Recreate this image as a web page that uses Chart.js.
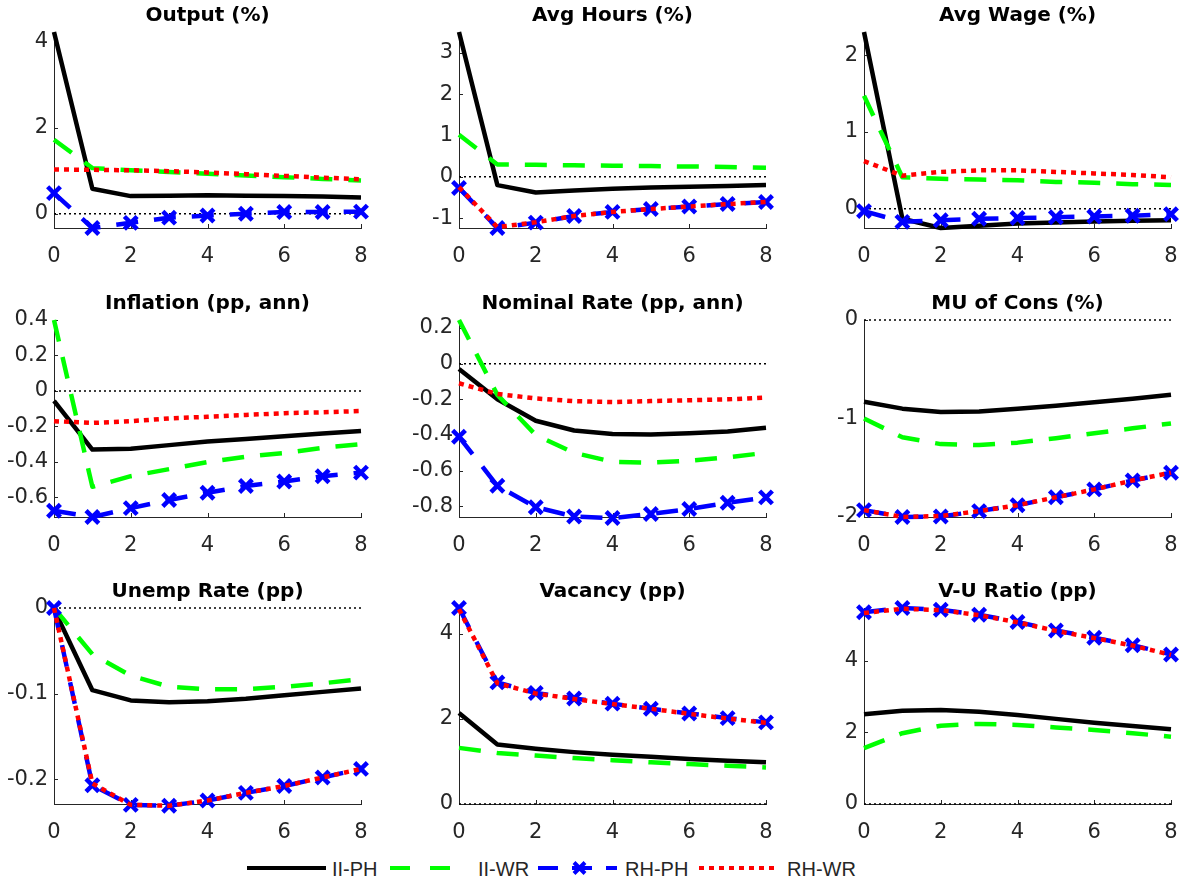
<!DOCTYPE html>
<html>
<head>
<meta charset="utf-8">
<script src="https://cdn.jsdelivr.net/npm/chart.js@4.4.1/dist/chart.umd.min.js"></script>
<style>
  html, body { margin: 0; padding: 0; background: #fff; }
  body { width: 1184px; height: 886px; position: relative; overflow: hidden; }
  canvas.panel { position: absolute; }
  #legendMarks { position: absolute; left: 0; top: 0; }
  .lg-text { position: absolute; top: 857px; font-size: 20px; line-height: 24px; color: #262626;
    font-family: "Liberation Sans", Arial, sans-serif; white-space: nowrap; }
</style>
</head>
<body>
<svg id="legendMarks" width="1184" height="886"></svg>
<script>
// horizons and labels
const periods = [0, 1, 2, 3, 4, 5, 6, 7, 8];
const xTicks = [0, 2, 4, 6, 8];
const seriesNames = ["II-PH", "II-WR", "RH-PH", "RH-WR"];
const panelTitles = ["Output (%)", "Avg Hours (%)", "Avg Wage (%)",
  "Inflation (pp, ann)", "Nominal Rate (pp, ann)", "MU of Cons (%)",
  "Unemp Rate (pp)", "Vacancy (pp)", "V-U Ratio (pp)"];
const zeroLine = [0, 0, 0, 0, 0, 0, 0, 0, 0];

// Output
const outputIIPH = [4.22, 0.58, 0.41, 0.42, 0.43, 0.42, 0.41, 0.40, 0.38];
const outputIIWR = [1.72, 1.06, 1.01, 0.97, 0.93, 0.89, 0.85, 0.81, 0.77];
const outputRHPH = [0.48, -0.33, -0.21, -0.09, -0.04, 0.00, 0.04, 0.04, 0.05];
const outputRHWR = [1.03, 1.02, 1.01, 0.99, 0.96, 0.92, 0.88, 0.84, 0.80];
const outputRange = [-0.33, 4.22];
const outputTicks = [0, 2, 4];

// Avg Hours
const hoursIIPH = [3.51, -0.20, -0.38, -0.33, -0.29, -0.26, -0.24, -0.22, -0.20];
const hoursIIWR = [1.02, 0.30, 0.29, 0.28, 0.27, 0.26, 0.25, 0.24, 0.22];
const hoursRHPH = [-0.27, -1.24, -1.11, -0.95, -0.85, -0.78, -0.72, -0.66, -0.61];
const hoursRHWR = [-0.25, -1.22, -1.10, -0.95, -0.85, -0.78, -0.72, -0.66, -0.61];
const hoursRange = [-1.24, 3.51];
const hoursTicks = [-1, 0, 1, 2, 3];

// Avg Wage
const wageIIPH = [2.30, -0.13, -0.25, -0.22, -0.19, -0.18, -0.165, -0.155, -0.15];
const wageIIWR = [1.47, 0.41, 0.39, 0.38, 0.37, 0.35, 0.34, 0.32, 0.31];
const wageRHPH = [-0.03, -0.17, -0.15, -0.13, -0.12, -0.11, -0.10, -0.09, -0.07];
const wageRHWR = [0.62, 0.43, 0.48, 0.50, 0.50, 0.48, 0.46, 0.44, 0.41];
const wageRange = [-0.25, 2.30];
const wageTicks = [0, 1, 2];

// Inflation
const inflIIPH = [-0.056, -0.33, -0.325, -0.305, -0.285, -0.27, -0.255, -0.24, -0.225];
const inflIIWR = [0.40, -0.54, -0.48, -0.44, -0.40, -0.37, -0.35, -0.32, -0.30];
const inflRHPH = [-0.675, -0.71, -0.66, -0.614, -0.573, -0.535, -0.51, -0.48, -0.46];
const inflRHWR = [-0.17, -0.18, -0.17, -0.155, -0.145, -0.135, -0.125, -0.12, -0.113];
const inflRange = [-0.71, 0.40];
const inflTicks = [-0.6, -0.4, -0.2, 0, 0.2, 0.4];

// Nominal Rate
const rateIIPH = [-0.03, -0.20, -0.32, -0.375, -0.395, -0.397, -0.39, -0.38, -0.36];
const rateIIWR = [0.245, -0.175, -0.40, -0.50, -0.55, -0.555, -0.545, -0.525, -0.50];
const rateRHPH = [-0.41, -0.685, -0.805, -0.857, -0.866, -0.843, -0.815, -0.78, -0.75];
const rateRHWR = [-0.11, -0.17, -0.195, -0.21, -0.215, -0.21, -0.205, -0.20, -0.19];
const rateRange = [-0.86, 0.245];
const rateTicks = [-0.8, -0.6, -0.4, -0.2, 0, 0.2];

// MU of Cons
const muIIPH = [-0.83, -0.90, -0.935, -0.93, -0.90, -0.87, -0.835, -0.80, -0.76];
const muIIWR = [-1.0, -1.19, -1.26, -1.27, -1.245, -1.20, -1.15, -1.10, -1.05];
const muRHPH = [-1.93, -2.0, -1.995, -1.94, -1.88, -1.80, -1.72, -1.63, -1.55];
const muRHWR = [-1.93, -2.0, -1.99, -1.94, -1.88, -1.80, -1.72, -1.63, -1.55];
const muRange = [-2.0, 0];
const muTicks = [-2, -1, 0];

// Unemp Rate
const unempIIPH = [-0.0015, -0.096, -0.108, -0.110, -0.109, -0.106, -0.102, -0.098, -0.094];
const unempIIWR = [0, -0.054, -0.079, -0.092, -0.095, -0.095, -0.092, -0.088, -0.083];
const unempRHPH = [0, -0.207, -0.230, -0.231, -0.225, -0.216, -0.208, -0.198, -0.188];
const unempRHWR = [0, -0.205, -0.230, -0.231, -0.225, -0.216, -0.208, -0.198, -0.188];
const unempRange = [-0.229, 0];
const unempTicks = [-0.2, -0.1, 0];

// Vacancy
const vacIIPH = [2.14, 1.40, 1.30, 1.22, 1.16, 1.11, 1.06, 1.02, 0.98];
const vacIIWR = [1.32, 1.20, 1.14, 1.08, 1.03, 0.98, 0.94, 0.90, 0.86];
const vacRHPH = [4.61, 2.86, 2.61, 2.48, 2.36, 2.24, 2.13, 2.02, 1.92];
const vacRHWR = [4.58, 2.84, 2.60, 2.47, 2.35, 2.24, 2.12, 2.01, 1.91];
const vacRange = [0, 4.61];
const vacTicks = [0, 2, 4];

// V-U Ratio
const vuIIPH = [2.51, 2.61, 2.63, 2.58, 2.49, 2.38, 2.27, 2.18, 2.09];
const vuIIWR = [1.56, 1.98, 2.19, 2.24, 2.21, 2.14, 2.07, 1.98, 1.88];
const vuRHPH = [5.36, 5.48, 5.43, 5.29, 5.09, 4.85, 4.65, 4.44, 4.18];
const vuRHWR = [5.34, 5.46, 5.42, 5.28, 5.08, 4.84, 4.64, 4.43, 4.17];
const vuRange = [0, 5.48];
const vuTicks = [0, 2, 4];

const panels = [
  { series: [outputIIPH, outputIIWR, outputRHPH, outputRHWR], range: outputRange, ticks: outputTicks },
  { series: [hoursIIPH, hoursIIWR, hoursRHPH, hoursRHWR], range: hoursRange, ticks: hoursTicks },
  { series: [wageIIPH, wageIIWR, wageRHPH, wageRHWR], range: wageRange, ticks: wageTicks },
  { series: [inflIIPH, inflIIWR, inflRHPH, inflRHWR], range: inflRange, ticks: inflTicks },
  { series: [rateIIPH, rateIIWR, rateRHPH, rateRHWR], range: rateRange, ticks: rateTicks },
  { series: [muIIPH, muIIWR, muRHPH, muRHWR], range: muRange, ticks: muTicks },
  { series: [unempIIPH, unempIIWR, unempRHPH, unempRHWR], range: unempRange, ticks: unempTicks },
  { series: [vacIIPH, vacIIWR, vacRHPH, vacRHWR], range: vacRange, ticks: vacTicks },
  { series: [vuIIPH, vuIIWR, vuRHPH, vuRHWR], range: vuRange, ticks: vuTicks }
];

// line looks, same order as seriesNames
const seriesStyles = [
  { color: "#000000", dash: [], legendDash: "", marker: false, order: 4 },
  { color: "#00ff00", dash: [22, 16], legendDash: "20 20", marker: false, order: 3 },
  { color: "#0000ff", dash: [22, 16], legendDash: "20 14", marker: true, order: 2 },
  { color: "#ff0000", dash: [5, 5], legendDash: "5 5", marker: false, order: 1 }
];

const colLefts = [54, 459, 864];
const rowTops = [32, 320, 608];
const rowHeights = [196, 197, 196];
const plotWidth = 307;
const PAD_LEFT = 64, PAD_RIGHT = 64, PAD_TOP = 26, PAD_BOTTOM = 45;
const AXIS_COLOR = "#262626";
const TICK_FONT = { family: "DejaVu Sans", size: 21 };

function fmt(v) {
  return String(Math.round(v * 10) / 10);
}

// MATLAB-style short ticks pointing into the plot
const inwardTicks = {
  id: "inwardTicks",
  beforeDatasetsDraw(chart) {
    const { ctx, chartArea, scales } = chart;
    ctx.save();
    ctx.strokeStyle = AXIS_COLOR;
    ctx.lineWidth = 1;
    ctx.beginPath();
    scales.x.ticks.forEach(t => {
      const px = Math.round(scales.x.getPixelForValue(t.value)) + 0.5;
      ctx.moveTo(px, chartArea.bottom);
      ctx.lineTo(px, chartArea.bottom - 4);
    });
    scales.y.ticks.forEach(t => {
      const py = Math.round(scales.y.getPixelForValue(t.value)) + 0.5;
      ctx.moveTo(chartArea.left, py);
      ctx.lineTo(chartArea.left + 4, py);
    });
    ctx.stroke();
    ctx.restore();
  }
};

function toPoints(values) {
  return periods.map((x, i) => ({ x: x, y: values[i] }));
}

function makePanel(p, i) {
  const col = i % 3;
  const row = Math.floor(i / 3);
  const h = rowHeights[row];
  const canvas = document.createElement("canvas");
  canvas.className = "panel";
  canvas.width = plotWidth + PAD_LEFT + PAD_RIGHT;
  canvas.height = h + PAD_TOP + PAD_BOTTOM;
  canvas.style.left = (colLefts[col] - PAD_LEFT) + "px";
  canvas.style.top = (rowTops[row] - PAD_TOP) + "px";
  document.body.appendChild(canvas);

  const datasets = [{
    label: "zero",
    data: toPoints(zeroLine),
    borderColor: "#000",
    borderWidth: 1.5,
    borderDash: [2, 3],
    pointRadius: 0,
    order: 5,
    clip: false
  }];
  p.series.forEach((vals, k) => {
    const st = seriesStyles[k];
    datasets.push({
      label: seriesNames[k],
      data: toPoints(vals),
      borderColor: st.color,
      backgroundColor: st.color,
      borderWidth: 4.5,
      borderDash: st.dash,
      borderCapStyle: "butt",
      borderJoinStyle: "round",
      pointStyle: "crossRot",
      pointRadius: st.marker ? 9 : 0,
      pointBorderWidth: 4.5,
      pointBorderColor: st.color,
      tension: 0,
      order: st.order,
      clip: false
    });
  });

  new Chart(canvas, {
    type: "line",
    data: { datasets: datasets },
    options: {
      responsive: false,
      animation: false,
      devicePixelRatio: 1,
      events: [],
      layout: { padding: { left: 0, right: PAD_RIGHT, top: 0, bottom: 0 } },
      plugins: {
        legend: { display: false },
        tooltip: { enabled: false },
        title: {
          display: true,
          fullSize: false,
          text: panelTitles[i],
          color: "#000",
          font: { family: "DejaVu Sans", size: 20, weight: "bold", lineHeight: 1 },
          padding: { top: 0, bottom: 6 }
        }
      },
      scales: {
        x: {
          type: "linear",
          min: 0,
          max: 8,
          afterBuildTicks: s => { s.ticks = xTicks.map(v => ({ value: v })); },
          afterFit: s => { s.height = PAD_BOTTOM; },
          ticks: { font: TICK_FONT, color: AXIS_COLOR, padding: 16, maxRotation: 0, callback: v => fmt(v) },
          grid: { display: true, drawOnChartArea: false, drawTicks: false },
          border: { display: true, color: AXIS_COLOR, width: 1 }
        },
        y: {
          type: "linear",
          min: p.range[0],
          max: p.range[1],
          afterBuildTicks: s => { s.ticks = p.ticks.map(v => ({ value: v })); },
          afterFit: s => { s.width = PAD_LEFT; },
          ticks: { font: TICK_FONT, color: AXIS_COLOR, padding: 6, callback: v => fmt(v) },
          grid: { display: true, drawOnChartArea: false, drawTicks: false },
          border: { display: true, color: AXIS_COLOR, width: 1 }
        }
      }
    },
    plugins: [inwardTicks]
  });
}

panels.forEach(makePanel);

// shared legend along the bottom
const legendY = 868;
const legendSamples = [
  { x1: 247, x2: 326, textX: 332 },
  { x1: 390, x2: 469, textX: 478 },
  { x1: 538, x2: 617, textX: 625 },
  { x1: 699, x2: 778, textX: 787 }
];
const svg = document.getElementById("legendMarks");
const NS = "http://www.w3.org/2000/svg";
legendSamples.forEach((s, k) => {
  const st = seriesStyles[k];
  const line = document.createElementNS(NS, "line");
  line.setAttribute("x1", s.x1);
  line.setAttribute("x2", s.x2);
  line.setAttribute("y1", legendY);
  line.setAttribute("y2", legendY);
  line.setAttribute("stroke", st.color);
  line.setAttribute("stroke-width", 4);
  if (st.legendDash) line.setAttribute("stroke-dasharray", st.legendDash);
  svg.appendChild(line);
  if (st.marker) {
    const cx = (s.x1 + s.x2) / 2 + 2;
    const d = 5.5;
    const x = document.createElementNS(NS, "path");
    x.setAttribute("d", `M${cx - d} ${legendY - d} L${cx + d} ${legendY + d} M${cx - d} ${legendY + d} L${cx + d} ${legendY - d}`);
    x.setAttribute("stroke", st.color);
    x.setAttribute("stroke-width", 4);
    svg.appendChild(x);
  }
  const txt = document.createElement("div");
  txt.className = "lg-text";
  txt.style.left = s.textX + "px";
  txt.textContent = seriesNames[k];
  document.body.appendChild(txt);
});
</script>
</body>
</html>
